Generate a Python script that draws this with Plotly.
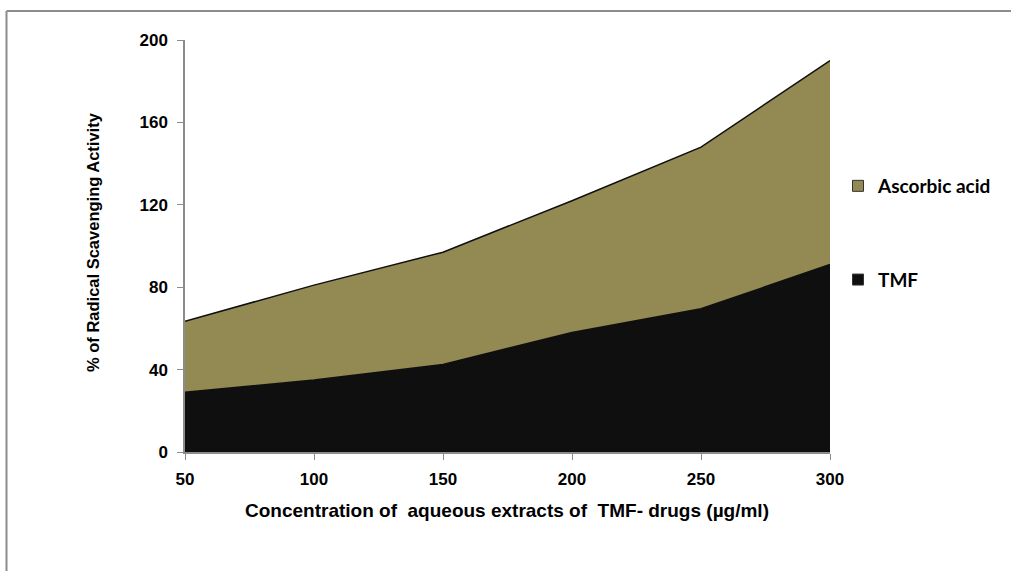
import plotly.graph_objects as go

concentration = [50, 100, 150, 200, 250, 300]
tmf = [29, 35, 42.5, 58, 69.5, 91]
ascorbic_acid = [34.5, 46, 54.5, 64, 78.5, 99]
y_ticks = [0, 40, 80, 120, 160, 200]

OLIVE = "#938953"
BLACK = "#0f0f0f"
FONT = "Liberation Sans"

fig = go.Figure()
fig.add_trace(go.Scatter(x=concentration, y=tmf, stackgroup="s", mode="lines",
                         line=dict(color=BLACK, width=1.5), fillcolor=BLACK,
                         name="TMF", showlegend=False))
fig.add_trace(go.Scatter(x=concentration, y=ascorbic_acid, stackgroup="s", mode="lines",
                         line=dict(color=BLACK, width=1.5), fillcolor=OLIVE,
                         name="Ascorbic acid", showlegend=False))
# legend entries
fig.add_trace(go.Scatter(x=[None], y=[None], mode="markers", name="Ascorbic acid", legendgroup="a",
                         marker=dict(symbol="square", size=11, color=OLIVE,
                                     line=dict(color="#333333", width=1))))
fig.add_trace(go.Scatter(x=[None], y=[None], mode="markers", name="TMF", legendgroup="b",
                         marker=dict(symbol="square", size=11, color=BLACK,
                                     line=dict(color="#333333", width=1))))

W, H = 1011, 571
L, R, T, B = 185, 181, 40, 119
pw, ph = W - L - R, H - T - B

def px_x(p):
    return (p - L) / pw

def px_y(p):
    return (H - B - p) / ph

fig.update_layout(
    width=W, height=H,
    margin=dict(l=L, r=R, t=T, b=B, autoexpand=False),
    paper_bgcolor="white", plot_bgcolor="white",
    font=dict(family=FONT, size=14, color="black"),
    xaxis=dict(range=[50, 300], tickvals=concentration, showgrid=False, zeroline=False,
               showline=True, linecolor="#8c8c8c", linewidth=1.5,
               ticks="outside", ticklen=6, tickcolor="#8c8c8c", ticklabelstandoff=5,
               tickfont=dict(family=FONT, size=17, weight="bold")),
    yaxis=dict(range=[0, 200], tickvals=y_ticks, showgrid=False, zeroline=False,
               showline=True, linecolor="#8c8c8c", linewidth=1.5,
               ticks="outside", ticklen=6, tickcolor="#8c8c8c", ticklabelstandoff=6,
               tickfont=dict(family=FONT, size=17, weight="bold")),
    legend=dict(x=px_x(838), y=px_y(167), xanchor="left", yanchor="top",
                traceorder="grouped", tracegroupgap=66,
                font=dict(family="Lato", size=19, weight="bold"),
                bgcolor="rgba(0,0,0,0)", itemwidth=30),
    showlegend=True,
)

# axis titles
fig.add_annotation(xref="paper", yref="paper", x=px_x(507), y=px_y(510),
                   xanchor="center", yanchor="middle", showarrow=False,
                   text="Concentration of  aqueous extracts of  TMF- drugs (µg/ml)",
                   font=dict(family=FONT, size=19, weight="bold"))
fig.add_annotation(xref="paper", yref="paper", x=px_x(93), y=px_y(242),
                   xanchor="center", yanchor="middle", showarrow=False, textangle=-90,
                   text="% of Radical Scavenging Activity",
                   font=dict(family=FONT, size=16.5, weight="bold"))

fig.add_shape(type="line", xref="paper", yref="paper",
              x0=px_x(6.5), x1=px_x(1020), y0=px_y(11), y1=px_y(11),
              line=dict(color="#8c8c8c", width=2))
fig.add_shape(type="line", xref="paper", yref="paper",
              x0=px_x(6.5), x1=px_x(6.5), y0=px_y(11), y1=px_y(580),
              line=dict(color="#8c8c8c", width=2))

fig.write_html("out.html")
